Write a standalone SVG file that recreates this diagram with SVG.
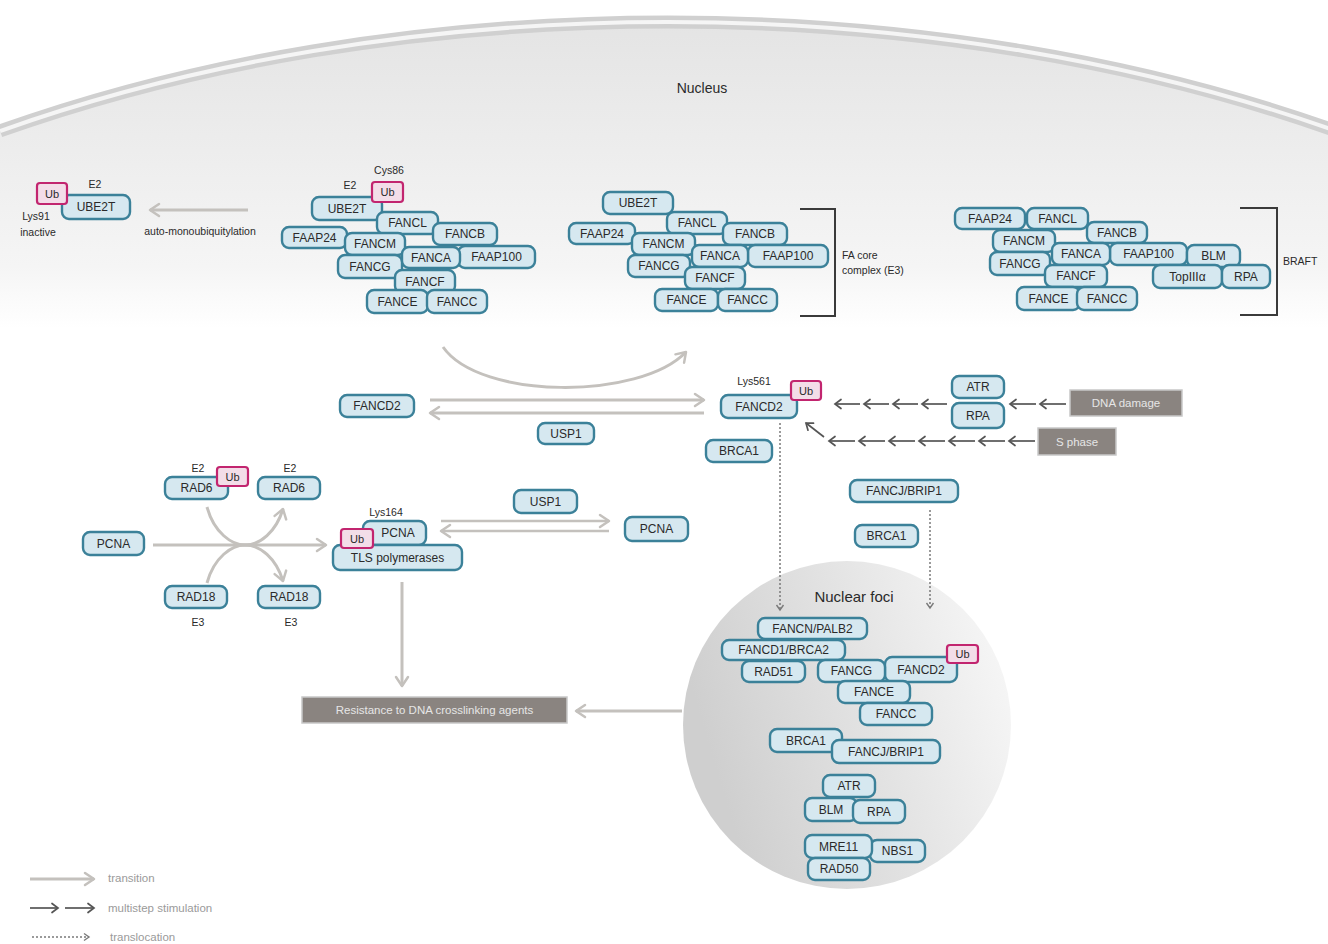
<svg xmlns="http://www.w3.org/2000/svg" width="1328" height="944" viewBox="0 0 1328 944">
<style>
.n rect{fill:#d6e8f0;stroke:#3b8199;stroke-width:2.4}
.n text,.lbl{font-family:"Liberation Sans",Arial,sans-serif;fill:#2a2a2a;text-anchor:middle}
.n text{font-size:12px}
.u rect{fill:#f3dde8;stroke:#c2256f;stroke-width:2.2}
.u text{font-family:"Liberation Sans",Arial,sans-serif;font-size:11px;fill:#2a2a2a;text-anchor:middle}
.lbl{font-size:10.5px}
.lft{text-anchor:start}
.tr{stroke:#c4c1bd;stroke-width:3;fill:none;marker-end:url(#mt)}
.ms{stroke:#555;stroke-width:1.7;fill:none;marker-end:url(#mm)}
.dt{stroke:#7a7a7a;stroke-width:1.5;stroke-dasharray:2 2;fill:none;marker-end:url(#md)}
.gb rect{fill:#8a8480;stroke:#c8c8c8;stroke-width:1.5}
.gb text{font-family:"Liberation Sans",Arial,sans-serif;font-size:11.5px;fill:#e6e6e6;text-anchor:middle}
.leg{font-family:"Liberation Sans",Arial,sans-serif;font-size:11.5px;fill:#9a9a9a}
.br{stroke:#3a3a3a;stroke-width:2;fill:none}
</style>
<defs>
<linearGradient id="ng" gradientUnits="userSpaceOnUse" x1="0" y1="20" x2="0" y2="328">
<stop offset="0" stop-color="#e4e4e4"/><stop offset="0.8" stop-color="#f5f5f5"/><stop offset="1" stop-color="#ffffff"/>
</linearGradient>
<linearGradient id="fg" x1="0" y1="0.3" x2="1" y2="0">
<stop offset="0" stop-color="#cfcfcf"/><stop offset="0.5" stop-color="#e4e4e4"/><stop offset="1" stop-color="#fafafa"/>
</linearGradient>
<marker id="mt" markerUnits="userSpaceOnUse" markerWidth="14" markerHeight="16" refX="11" refY="8" orient="auto"><path d="M2,2 L11,8 L2,14" fill="none" stroke="#c4c1bd" stroke-width="2.5" stroke-linecap="round" stroke-linejoin="round"/></marker>
<marker id="mm" markerUnits="userSpaceOnUse" markerWidth="10" markerHeight="12" refX="8" refY="6" orient="auto"><path d="M2,1.5 L8,6 L2,10.5" fill="none" stroke="#555" stroke-width="1.7" stroke-linecap="round"/></marker>
<marker id="md" markerUnits="userSpaceOnUse" markerWidth="10" markerHeight="10" refX="7" refY="5" orient="auto"><path d="M2,1.5 L7,5 L2,8.5" fill="none" stroke="#7a7a7a" stroke-width="1.4"/></marker>
</defs>
<rect width="1328" height="944" fill="#ffffff"/>
<!-- nucleus -->
<g id="nucleus">
<path d="M0,131 A1245,698 0 0 1 1336,131 L1336,328 L0,328 Z" fill="url(#ng)"/>
<path d="M0,131 A1245,698 0 0 1 1336,131" fill="none" stroke="#d0d0d0" stroke-width="13"/>
<path d="M0,131 A1245,698 0 0 1 1336,131" fill="none" stroke="#f5f5f5" stroke-width="4"/>
<text class="lbl" x="702" y="93" style="font-size:14px">Nucleus</text>
</g>
<g id="foci-bg">
<circle cx="847" cy="725" r="164" fill="url(#fg)"/>
<text class="lbl" x="854" y="602" style="font-size:15px">Nuclear foci</text>
</g>
<!-- connectors -->
<g id="connectors">
<line class="tr" x1="248" y1="210" x2="150" y2="210"/>
<path class="tr" d="M443,347 C480,400 640,400 686,352"/>
<line class="tr" x1="430" y1="400" x2="704" y2="400"/>
<line class="tr" x1="704" y1="413" x2="430" y2="413"/>
<line class="tr" x1="153" y1="545" x2="326" y2="545"/>
<path class="tr" d="M207,507 C214,533 232,545 245,545 C260,545 276,532 283,509"/>
<path class="tr" d="M207,583 C214,557 232,545 245,545 C260,545 276,558 283,581"/>
<line class="tr" x1="441" y1="521" x2="609" y2="521" style="stroke-width:2.6"/>
<line class="tr" x1="609" y1="531" x2="441" y2="531" style="stroke-width:2.6"/>
<line class="tr" x1="402" y1="582" x2="402" y2="686"/>
<line class="tr" x1="682" y1="711" x2="576" y2="711"/>
<line class="ms" x1="860" y1="404" x2="835" y2="404"/>
<line class="ms" x1="889" y1="404" x2="864" y2="404"/>
<line class="ms" x1="918" y1="404" x2="893" y2="404"/>
<line class="ms" x1="947" y1="404" x2="922" y2="404"/>
<line class="ms" x1="1036" y1="404" x2="1010" y2="404"/>
<line class="ms" x1="1066" y1="404" x2="1040" y2="404"/>
<line class="ms" x1="855" y1="441" x2="829" y2="441"/>
<line class="ms" x1="885" y1="441" x2="859" y2="441"/>
<line class="ms" x1="915" y1="441" x2="889" y2="441"/>
<line class="ms" x1="945" y1="441" x2="919" y2="441"/>
<line class="ms" x1="975" y1="441" x2="949" y2="441"/>
<line class="ms" x1="1005" y1="441" x2="979" y2="441"/>
<line class="ms" x1="1035" y1="441" x2="1009" y2="441"/>
<line class="ms" x1="824" y1="437" x2="806" y2="423"/>
<line class="dt" x1="780" y1="423" x2="780" y2="610"/>
<line class="dt" x1="930" y1="510" x2="930" y2="608"/>
</g>
<!-- top-left UBE2T -->
<g id="tl-ube2t" class="n"><rect x="62" y="195" width="68" height="24" rx="7"/><text x="96" y="211">UBE2T</text></g>
<g id="tl-ub" class="u"><rect x="37" y="183" width="30" height="21" rx="3"/><text x="52" y="197.5">Ub</text></g>
<text class="lbl" x="95" y="188">E2</text>
<text class="lbl" x="36" y="220">Lys91</text>
<text class="lbl" x="38" y="236">inactive</text>
<text class="lbl" x="200" y="235">auto-monoubiquitylation</text>
<!-- complex 1 -->
<g id="c1">
<g id="c1-ube2t" class="n"><rect x="312" y="197" width="70" height="23" rx="7"/><text x="347" y="212.5">UBE2T</text></g>
<g id="c1-faap24" class="n"><rect x="282" y="227" width="65" height="21" rx="7"/><text x="314.5" y="241.5">FAAP24</text></g>
<g id="c1-fancl" class="n"><rect x="377" y="212" width="61" height="22" rx="7"/><text x="407.5" y="227">FANCL</text></g>
<g id="c1-fancb" class="n"><rect x="433" y="223" width="64" height="22" rx="7"/><text x="465" y="238">FANCB</text></g>
<g id="c1-fancm" class="n"><rect x="345" y="233" width="60" height="22" rx="7"/><text x="375" y="248">FANCM</text></g>
<g id="c1-fancg" class="n"><rect x="338" y="255" width="64" height="23" rx="7"/><text x="370" y="270.5">FANCG</text></g>
<g id="c1-faap100" class="n"><rect x="458" y="246" width="77" height="22" rx="7"/><text x="496.5" y="261">FAAP100</text></g>
<g id="c1-fanca" class="n"><rect x="402" y="247" width="58" height="21" rx="7"/><text x="431" y="261.5">FANCA</text></g>
<g id="c1-fancf" class="n"><rect x="395" y="270" width="60" height="23" rx="7"/><text x="425" y="285.5">FANCF</text></g>
<g id="c1-fance" class="n"><rect x="367" y="290" width="61" height="23" rx="7"/><text x="397.5" y="305.5">FANCE</text></g>
<g id="c1-fancc" class="n"><rect x="427" y="290" width="60" height="23" rx="7"/><text x="457" y="305.5">FANCC</text></g>
<g id="c1-ub" class="u"><rect x="372" y="182" width="31" height="20" rx="3"/><text x="387.5" y="196">Ub</text></g>
<text class="lbl" x="389" y="174">Cys86</text>
<text class="lbl" x="350" y="189">E2</text>
</g>
<!-- complex 2 -->
<g id="c2">
<g id="c2-ube2t" class="n"><rect x="603" y="192" width="70" height="22" rx="7"/><text x="638" y="207">UBE2T</text></g>
<g id="c2-faap24" class="n"><rect x="569" y="223" width="66" height="21" rx="7"/><text x="602" y="237.5">FAAP24</text></g>
<g id="c2-fancl" class="n"><rect x="667" y="212" width="60" height="22" rx="7"/><text x="697" y="227">FANCL</text></g>
<g id="c2-fancb" class="n"><rect x="723" y="223" width="64" height="22" rx="7"/><text x="755" y="238">FANCB</text></g>
<g id="c2-fancm" class="n"><rect x="632" y="233" width="63" height="22" rx="7"/><text x="663.5" y="248">FANCM</text></g>
<g id="c2-fancg" class="n"><rect x="628" y="255" width="62" height="22" rx="7"/><text x="659" y="270">FANCG</text></g>
<g id="c2-faap100" class="n"><rect x="748" y="245" width="80" height="22" rx="7"/><text x="788" y="260">FAAP100</text></g>
<g id="c2-fanca" class="n"><rect x="692" y="245" width="56" height="22" rx="7"/><text x="720" y="260">FANCA</text></g>
<g id="c2-fancf" class="n"><rect x="685" y="267" width="60" height="22" rx="7"/><text x="715" y="282">FANCF</text></g>
<g id="c2-fance" class="n"><rect x="655" y="289" width="63" height="22" rx="7"/><text x="686.5" y="304">FANCE</text></g>
<g id="c2-fancc" class="n"><rect x="718" y="289" width="59" height="22" rx="7"/><text x="747.5" y="304">FANCC</text></g>
<path class="br" d="M800,209 H835 V316 H800"/>
<text class="lbl lft" x="842" y="259">FA core</text>
<text class="lbl lft" x="842" y="274">complex (E3)</text>
</g>
<!-- BRAFT -->
<g id="braft">
<g id="b-faap24" class="n"><rect x="955" y="208" width="70" height="21" rx="7"/><text x="990" y="222.5">FAAP24</text></g>
<g id="b-fancl" class="n"><rect x="1027" y="208" width="61" height="21" rx="7"/><text x="1057.5" y="222.5">FANCL</text></g>
<g id="b-fancb" class="n"><rect x="1087" y="222" width="60" height="21" rx="7"/><text x="1117" y="236.5">FANCB</text></g>
<g id="b-fancm" class="n"><rect x="993" y="230" width="62" height="22" rx="7"/><text x="1024" y="245">FANCM</text></g>
<g id="b-fancg" class="n"><rect x="990" y="252" width="60" height="23" rx="7"/><text x="1020" y="267.5">FANCG</text></g>
<g id="b-faap100" class="n"><rect x="1110" y="243" width="77" height="22" rx="7"/><text x="1148.5" y="258">FAAP100</text></g>
<g id="b-blm" class="n"><rect x="1187" y="245" width="53" height="22" rx="7"/><text x="1213.5" y="260">BLM</text></g>
<g id="b-fanca" class="n"><rect x="1052" y="243" width="58" height="22" rx="7"/><text x="1081" y="258">FANCA</text></g>
<g id="b-fancf" class="n"><rect x="1045" y="265" width="62" height="22" rx="7"/><text x="1076" y="280">FANCF</text></g>
<g id="b-topiiia" class="n"><rect x="1153" y="265" width="69" height="23" rx="7"/><text x="1187.5" y="280.5">TopIIIα</text></g>
<g id="b-rpa" class="n"><rect x="1222" y="265" width="48" height="23" rx="7"/><text x="1246" y="280.5">RPA</text></g>
<g id="b-fance" class="n"><rect x="1017" y="287" width="63" height="23" rx="7"/><text x="1048.5" y="302.5">FANCE</text></g>
<g id="b-fancc" class="n"><rect x="1077" y="287" width="60" height="23" rx="7"/><text x="1107" y="302.5">FANCC</text></g>
<path class="br" d="M1240,208 H1277 V315 H1240"/>
<text class="lbl lft" x="1283" y="265">BRAFT</text>
</g>
<!-- FANCD2 pathway -->
<g id="fancd2-l" class="n"><rect x="340" y="395" width="74" height="22" rx="7"/><text x="377" y="410">FANCD2</text></g>
<g id="usp1-a" class="n"><rect x="538" y="423" width="56" height="21" rx="7"/><text x="566" y="437.5">USP1</text></g>
<g id="fancd2-r" class="n"><rect x="721" y="395" width="76" height="23" rx="7"/><text x="759" y="410.5">FANCD2</text></g>
<g id="fancd2-ub" class="u"><rect x="791" y="381" width="30" height="19" rx="3"/><text x="806" y="394.5">Ub</text></g>
<text class="lbl" x="754" y="385">Lys561</text>
<g id="brca1-a" class="n"><rect x="706" y="440" width="66" height="22" rx="7"/><text x="739" y="455">BRCA1</text></g>
<g id="atr-a" class="n"><rect x="952" y="376" width="52" height="22" rx="7"/><text x="978" y="391">ATR</text></g>
<g id="rpa-a" class="n"><rect x="952" y="403" width="52" height="25" rx="7"/><text x="978" y="419.5">RPA</text></g>
<g id="dna-damage" class="gb"><rect x="1070" y="390" width="112" height="26"/><text x="1126" y="407">DNA damage</text></g>
<g id="s-phase" class="gb"><rect x="1038" y="428" width="78" height="27"/><text x="1077" y="445.5">S phase</text></g>
<g id="fancj-a" class="n"><rect x="850" y="480" width="108" height="22" rx="7"/><text x="904" y="495">FANCJ/BRIP1</text></g>
<g id="brca1-b" class="n"><rect x="855" y="525" width="63" height="22" rx="7"/><text x="886.5" y="540">BRCA1</text></g>
<!-- PCNA pathway -->
<g id="rad6-a" class="n"><rect x="165" y="477" width="63" height="22" rx="7"/><text x="196.5" y="492">RAD6</text></g>
<g id="rad6-ub" class="u"><rect x="217" y="467" width="31" height="19" rx="3"/><text x="232.5" y="480.5">Ub</text></g>
<text class="lbl" x="198" y="472">E2</text>
<g id="rad6-b" class="n"><rect x="258" y="477" width="62" height="22" rx="7"/><text x="289" y="492">RAD6</text></g>
<text class="lbl" x="290" y="472">E2</text>
<g id="pcna-l" class="n"><rect x="83" y="532" width="61" height="23" rx="7"/><text x="113.5" y="547.5">PCNA</text></g>
<g id="rad18-a" class="n"><rect x="165" y="586" width="62" height="22" rx="7"/><text x="196" y="601">RAD18</text></g>
<g id="rad18-b" class="n"><rect x="258" y="586" width="62" height="22" rx="7"/><text x="289" y="601">RAD18</text></g>
<text class="lbl" x="198" y="626">E3</text>
<text class="lbl" x="291" y="626">E3</text>
<text class="lbl" x="386" y="516">Lys164</text>
<g id="pcna-m" class="n"><rect x="363" y="521" width="63" height="24" rx="7"/><text x="398" y="537">PCNA</text></g>
<g id="tls" class="n"><rect x="333" y="545" width="129" height="25" rx="7"/><text x="397.5" y="561.5">TLS polymerases</text></g>
<g id="pcna-ub" class="u"><rect x="341" y="529" width="32" height="19" rx="3"/><text x="357" y="542.5">Ub</text></g>
<g id="usp1-b" class="n"><rect x="514" y="490" width="63" height="23" rx="7"/><text x="545.5" y="505.5">USP1</text></g>
<g id="pcna-r" class="n"><rect x="625" y="517" width="63" height="24" rx="7"/><text x="656.5" y="533">PCNA</text></g>
<g id="resistance" class="gb"><rect x="302" y="697" width="265" height="26"/><text x="434.5" y="714">Resistance to DNA crosslinking agents</text></g>
<!-- nuclear foci -->
<g id="foci">
<g id="f-fancn" class="n"><rect x="758" y="618" width="109" height="21" rx="7"/><text x="812.5" y="632.5">FANCN/PALB2</text></g>
<g id="f-fancd1" class="n"><rect x="722" y="640" width="123" height="20" rx="7"/><text x="783.5" y="654">FANCD1/BRCA2</text></g>
<g id="f-rad51" class="n"><rect x="742" y="661" width="63" height="21" rx="7"/><text x="773.5" y="675.5">RAD51</text></g>
<g id="f-fancd2" class="n"><rect x="885" y="657" width="72" height="25" rx="7"/><text x="921" y="673.5">FANCD2</text></g>
<g id="f-fancg" class="n"><rect x="818" y="660" width="67" height="22" rx="7"/><text x="851.5" y="675">FANCG</text></g>
<g id="f-ub" class="u"><rect x="947" y="645" width="31" height="18" rx="3"/><text x="962.5" y="658">Ub</text></g>
<g id="f-fance" class="n"><rect x="838" y="681" width="72" height="22" rx="7"/><text x="874" y="696">FANCE</text></g>
<g id="f-fancc" class="n"><rect x="860" y="703" width="72" height="22" rx="7"/><text x="896" y="718">FANCC</text></g>
<g id="f-brca1" class="n"><rect x="770" y="729" width="72" height="23" rx="7"/><text x="806" y="744.5">BRCA1</text></g>
<g id="f-fancj" class="n"><rect x="832" y="740" width="108" height="23" rx="7"/><text x="886" y="755.5">FANCJ/BRIP1</text></g>
<g id="f-atr" class="n"><rect x="823" y="775" width="52" height="22" rx="7"/><text x="849" y="790">ATR</text></g>
<g id="f-blm" class="n"><rect x="805" y="798" width="52" height="23" rx="7"/><text x="831" y="813.5">BLM</text></g>
<g id="f-rpa" class="n"><rect x="853" y="800" width="52" height="23" rx="7"/><text x="879" y="815.5">RPA</text></g>
<g id="f-nbs1" class="n"><rect x="870" y="840" width="55" height="22" rx="7"/><text x="897.5" y="855">NBS1</text></g>
<g id="f-mre11" class="n"><rect x="805" y="835" width="67" height="23" rx="7"/><text x="838.5" y="850.5">MRE11</text></g>
<g id="f-rad50" class="n"><rect x="808" y="858" width="62" height="22" rx="7"/><text x="839" y="873">RAD50</text></g>
</g>
<!-- legend -->
<g id="legend">
<line class="tr" x1="30" y1="879" x2="94" y2="879"/>
<text class="leg" x="108" y="882">transition</text>
<line class="ms" x1="30" y1="908" x2="58" y2="908"/>
<line class="ms" x1="65" y1="908" x2="94" y2="908"/>
<text class="leg" x="108" y="912">multistep stimulation</text>
<line class="dt" x1="32" y1="937" x2="89" y2="937"/>
<text class="leg" x="110" y="941">translocation</text>
</g>
</svg>
